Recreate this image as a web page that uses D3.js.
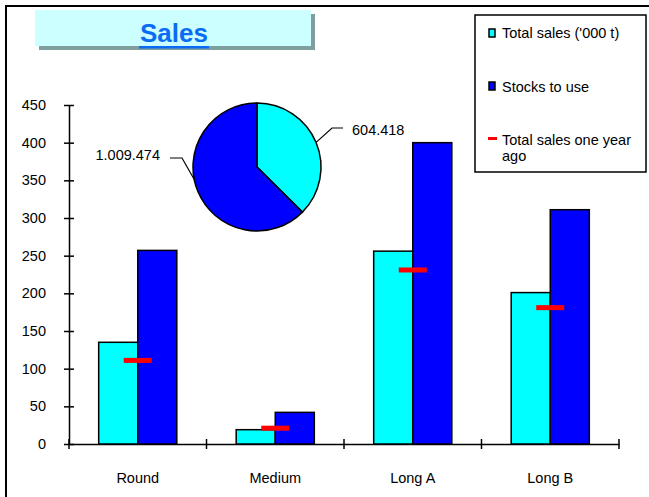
<!DOCTYPE html>
<html>
<head>
<meta charset="utf-8">
<script src="https://cdn.jsdelivr.net/npm/d3@7"></script>
<style>
  body { margin: 0; background: #fff; }
  svg { display: block; font-family: "Liberation Sans", Arial, sans-serif; }
</style>
</head>
<body>
<div id="chart"></div>
<script>
// data
var categories = ["Round", "Medium", "Long A", "Long B"];
var totalSales = [135, 19, 256, 201];
var stocksToUse = [257, 42, 400, 311];
var salesYearAgo = [111, 21, 231, 181];
var yTicks = [0, 50, 100, 150, 200, 250, 300, 350, 400, 450];
var pieValues = [604418, 1009474];
var pieLabels = ["604.418", "1.009.474"];
var legendLabels = ["Total sales ('000 t)", "Stocks to use", "Total sales one year", "ago"];

var width = 649, height = 497;
var margin = { top: 105, right: 30, bottom: 53, left: 69 };
var cyan = "#00ffff", blue = "#0000ff", red = "#ff0000";

var svg = d3.select("#chart")
    .append("svg")
    .attr("width", width)
    .attr("height", height);

// outer frame (only top and left edges are visible)
svg.append("rect")
    .attr("x", 6).attr("y", 6)
    .attr("width", 700).attr("height", 600)
    .attr("fill", "none")
    .attr("stroke", "#000")
    .attr("stroke-width", 2);

var x = d3.scaleBand()
    .domain(categories)
    .range([margin.left, width - margin.right]);

var x1 = d3.scaleBand()
    .domain(["sales", "stocks"])
    .range([0, x.bandwidth()])
    .paddingOuter(0.76);

var y = d3.scaleLinear()
    .domain([0, 450])
    .range([height - margin.bottom, margin.top]);

// y axis with ticks crossing the line
var yAxis = svg.append("g")
    .attr("transform", `translate(${margin.left},0)`)
    .call(d3.axisLeft(y).tickValues(yTicks).tickSize(5).tickSizeOuter(0));
yAxis.select(".domain").attr("stroke-width", 1.5);
yAxis.selectAll(".tick line").attr("x1", 5).attr("x2", -5).attr("stroke-width", 1.5);
yAxis.selectAll(".tick text")
    .attr("x", -23)
    .style("font-size", "14.5px")
    .style("font-family", "Liberation Sans, Arial, sans-serif")
    .attr("fill", "#000");

// x axis: labels in band centers, ticks on band boundaries
var xAxis = svg.append("g")
    .attr("transform", `translate(0,${y(0)})`)
    .call(d3.axisBottom(x).tickSize(0).tickPadding(29).tickSizeOuter(0));
xAxis.select(".domain").attr("stroke-width", 1.5);
xAxis.selectAll(".tick text")
    .style("font-size", "14.5px")
    .style("font-family", "Liberation Sans, Arial, sans-serif")
    .attr("fill", "#000");

var bounds = categories.map(c => x(c)).concat([x.range()[1]]);
svg.append("g")
    .selectAll("line")
    .data(bounds)
    .enter()
    .append("line")
    .attr("x1", d => d).attr("x2", d => d)
    .attr("y1", y(0) - 5).attr("y2", y(0) + 5)
    .attr("stroke", "#000")
    .attr("stroke-width", 1.5);

// bars
var bars = svg.append("g");
bars.selectAll("rect.sales")
    .data(categories)
    .enter()
    .append("rect")
    .attr("class", "sales")
    .attr("x", (d) => x(d) + x1("sales"))
    .attr("y", (d, i) => y(totalSales[i]))
    .attr("width", x1.bandwidth())
    .attr("height", (d, i) => y(0) - y(totalSales[i]))
    .attr("fill", cyan)
    .attr("stroke", "#000")
    .attr("stroke-width", 1.5);

bars.selectAll("rect.stocks")
    .data(categories)
    .enter()
    .append("rect")
    .attr("class", "stocks")
    .attr("x", (d) => x(d) + x1("stocks"))
    .attr("y", (d, i) => y(stocksToUse[i]))
    .attr("width", x1.bandwidth())
    .attr("height", (d, i) => y(0) - y(stocksToUse[i]))
    .attr("fill", blue)
    .attr("stroke", "#000")
    .attr("stroke-width", 1.5);

// one year ago markers
bars.selectAll("rect.ago")
    .data(categories)
    .enter()
    .append("rect")
    .attr("class", "ago")
    .attr("x", (d) => x(d) + x.bandwidth() / 2 - 14)
    .attr("y", (d, i) => y(salesYearAgo[i]) - 2.5)
    .attr("width", 28)
    .attr("height", 5)
    .attr("fill", red);

// title box
svg.append("rect")
    .attr("x", 39).attr("y", 14)
    .attr("width", 276).attr("height", 36)
    .attr("fill", "#7f9f9f");
svg.append("rect")
    .attr("x", 35).attr("y", 10)
    .attr("width", 276).attr("height", 36)
    .attr("fill", "#ccffff");
svg.append("text")
    .attr("x", 174).attr("y", 42)
    .attr("text-anchor", "middle")
    .style("font-size", "26px")
    .style("font-weight", "bold")
    .attr("fill", "#0a6cf5")
    .text("Sales");
svg.append("rect")
    .attr("x", 139).attr("y", 46)
    .attr("width", 70).attr("height", 2.5)
    .attr("fill", "#0a6cf5");

// pie
var pieCx = 257, pieCy = 167, pieR = 64;
var pie = d3.pie().sort(null);
var arc = d3.arc().innerRadius(0).outerRadius(pieR);
var slices = pie(pieValues);
var pieG = svg.append("g").attr("transform", `translate(${pieCx},${pieCy})`);
pieG.selectAll("path")
    .data(slices)
    .enter()
    .append("path")
    .attr("d", arc)
    .attr("fill", (d, i) => i === 0 ? cyan : blue)
    .attr("stroke", "#000")
    .attr("stroke-width", 1.5);

function edge(a, r) {
    return [Math.sin(a) * r, -Math.cos(a) * r];
}
// label for cyan slice (right side)
var a0 = (slices[0].startAngle + slices[0].endAngle) / 2;
var p0 = edge(a0, pieR);
pieG.append("polyline")
    .attr("points", [p0, [75, -39], [86, -39]].map(p => p.join(",")).join(" "))
    .attr("fill", "none").attr("stroke", "#000").attr("stroke-width", 1.2);
pieG.append("text")
    .attr("x", 95).attr("y", -37)
    .attr("dy", "0.35em")
    .style("font-size", "14.5px")
    .text(pieLabels[0]);

// label for blue slice (left side)
var a1 = slices[1].startAngle + (slices[1].endAngle - slices[1].startAngle) * 0.55;
var p1 = edge(a1, pieR);
pieG.append("polyline")
    .attr("points", [p1, [-75, -9], [-87, -9]].map(p => p.join(",")).join(" "))
    .attr("fill", "none").attr("stroke", "#000").attr("stroke-width", 1.2);
pieG.append("text")
    .attr("x", -97).attr("y", -12)
    .attr("dy", "0.35em")
    .attr("text-anchor", "end")
    .style("font-size", "14.5px")
    .text(pieLabels[1]);

// legend
var legend = svg.append("g");
legend.append("rect")
    .attr("x", 475).attr("y", 15)
    .attr("width", 171).attr("height", 157)
    .attr("fill", "#fff")
    .attr("stroke", "#000")
    .attr("stroke-width", 1.5);
legend.append("rect")
    .attr("x", 489).attr("y", 29)
    .attr("width", 6).attr("height", 8)
    .attr("fill", cyan).attr("stroke", "#000").attr("stroke-width", 1.5);
legend.append("rect")
    .attr("x", 489).attr("y", 82)
    .attr("width", 6).attr("height", 8)
    .attr("fill", blue).attr("stroke", "#000").attr("stroke-width", 1.5);
legend.append("rect")
    .attr("x", 488).attr("y", 137)
    .attr("width", 9).attr("height", 3)
    .attr("fill", red);

var legendY = [33, 87, 140, 156];
legend.selectAll("text")
    .data(legendLabels)
    .enter()
    .append("text")
    .attr("x", 502)
    .attr("y", (d, i) => legendY[i])
    .attr("dy", "0.35em")
    .style("font-size", "14.5px")
    .text(d => d);
</script>
</body>
</html>
